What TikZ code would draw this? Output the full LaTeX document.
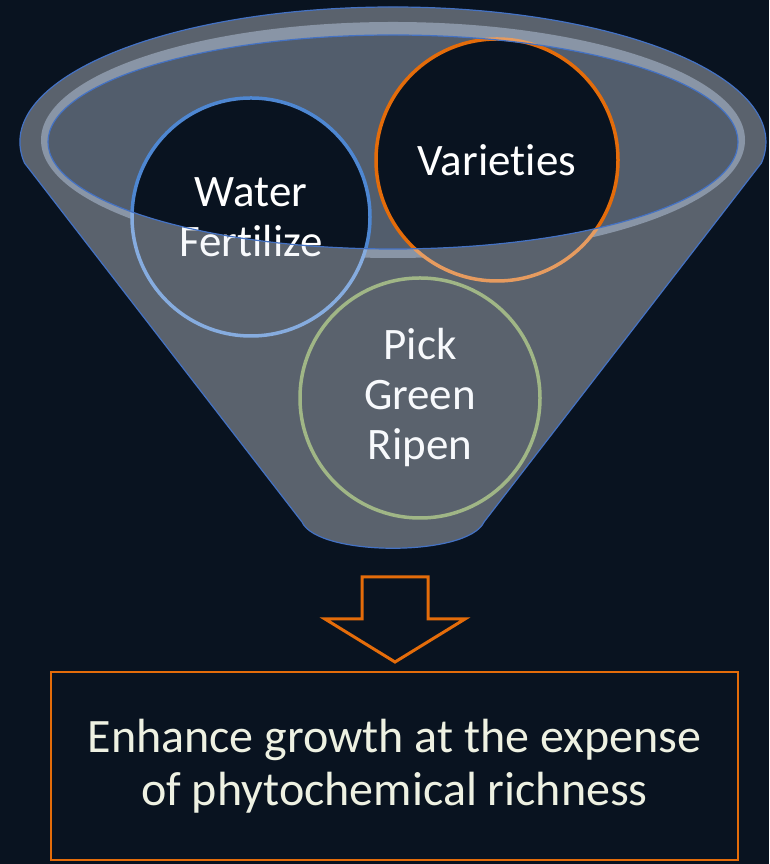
\documentclass[tikz,border=0pt]{standalone}
\usepackage{fontspec}
\setmainfont{Carlito}[Ligatures=NoCommon]
\usepackage{tikz}
\usetikzlibrary{positioning}
\definecolor{slidebg}{RGB}{9,19,32}
\definecolor{mouthgrey}{RGB}{82,93,108}
\definecolor{rimgrey}{RGB}{83,99,120}
\definecolor{glasswhite}{RGB}{235,240,248}
\definecolor{funnelblue}{RGB}{68,114,196}
\definecolor{waterblue}{RGB}{78,135,210}
\definecolor{varorange}{RGB}{228,108,10}
\definecolor{pickgreen}{RGB}{118,150,70}
\definecolor{creamtext}{RGB}{238,241,226}

\begin{document}
\begin{tikzpicture}[
    x=1pt, y=1pt,
    ring/.style={circle, draw, fill=slidebg, line width=3.5pt, minimum size=#1, inner sep=0pt, align=center, text=white, font=\fontsize{45}{50}\selectfont},
    glass/.style={fill=glasswhite, fill opacity=0.36, draw=funnelblue, line width=1.2pt, even odd rule},
    outcome/.style={rectangle, draw=varorange, line width=2pt, minimum width=687pt, minimum height=188pt, align=center, text=creamtext, font=\fontsize{48}{52.5}\selectfont},
    blockarrow/.style={draw=varorange, line width=3pt, line join=miter},
]
    \fill[slidebg] (0,0) rectangle (769,864);
    \useasboundingbox (0,0) rectangle (769,864);

    % inside of the funnel mouth
    \fill[rimgrey] (393,724) ellipse[x radius=352, y radius=118];
    \fill[mouthgrey] (393,722) ellipse[x radius=345, y radius=107];

    \node[ring=238pt, draw=waterblue] (water) at (251,647) {Water\\Fertilize};
    \node[ring=242pt, draw=varorange] (variety) at (497,704) {Varieties};
    \node[ring=240pt, draw=pickgreen] (pick) at (420,466) {Pick\\Green\\Ripen};

    % funnel body in front of the circles
    \path[glass] (24.5,701) arc[start angle=188.95, end angle=-8.95, x radius=373, y radius=135]
        -- (484,342) .. controls (468,307) and (318,307) .. (302,342) -- cycle
        (393,722) ellipse[x radius=345, y radius=107];

    % hollow down arrow
    \coordinate (down) at (395,287);
    \draw[blockarrow] (down) -- ++(33,0) -- ++(0,-42) -- ++(37,0) -- ++(-70,-43)
        -- ++(-70,43) -- ++(37,0) -- ++(0,42) -- cycle;

    \node[outcome] (result) at (394.5,98) {Enhance growth at the expense\\of phytochemical richness};
\end{tikzpicture}
\end{document}
